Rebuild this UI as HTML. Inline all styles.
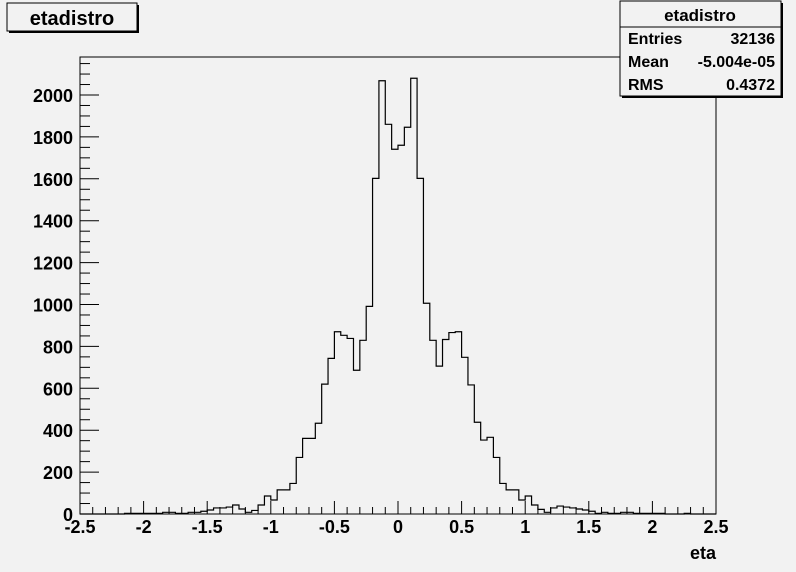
<!DOCTYPE html>
<html><head><meta charset="utf-8"><style>
html,body{margin:0;padding:0;background:#f2f2f2;}
svg{display:block;font-family:"Liberation Sans",Arial,sans-serif;font-weight:bold;}
</style></head><body>
<svg id="c" width="796" height="572" viewBox="0 0 796 572">
<rect x="0" y="0" width="796" height="572" fill="#f2f2f2"/>
<rect x="80" y="57" width="636" height="457" fill="#f2f2f2" stroke="#000" stroke-width="1"/>
<g id="ticks"></g>
<path id="hist" fill="none" stroke="#000" stroke-width="1.2"/>
<g>
<rect x="9" y="5" width="130" height="28" fill="#000"/>
<rect x="7" y="3" width="130" height="28" fill="#f2f2f2" stroke="#000" stroke-width="1"/>
<text x="72" y="25" font-size="20" text-anchor="middle">etadistro</text>
</g>
<g>
<rect x="622" y="3" width="161" height="95" fill="#000"/>
<rect x="620" y="1" width="161" height="95" fill="#f2f2f2" stroke="#000" stroke-width="1"/>
<line x1="620" y1="27" x2="781" y2="27" stroke="#000"/>
<text x="700" y="21" font-size="17" text-anchor="middle">etadistro</text>
<text x="628" y="44" font-size="16">Entries</text>
<text x="775" y="44" font-size="16" text-anchor="end">32136</text>
<text x="628" y="67" font-size="16">Mean</text>
<text x="775" y="67" font-size="16" text-anchor="end">-5.004e-05</text>
<text x="628" y="90" font-size="16">RMS</text>
<text x="775" y="90" font-size="16" text-anchor="end">0.4372</text>
</g>
<text x="716" y="559" font-size="18" text-anchor="end">eta</text>
</svg>
<script>
const binLow = -2.5;
const binWidth = 0.05;
const counts = [0,0,0,0,0,0,0,3,3,3,3,3,3,8,8,3,3,8,8,13,19,29,29,33,43,24,8,17,
43,86,67,115,115,146,270,361,361,433,620,743,870,853,838,686,829,991,1602,2068,1860,1741,
1760,1846,2080,1602,1006,829,706,833,866,870,748,616,438,353,366,270,146,115,115,67,86,43,
22,8,29,38,33,29,24,19,13,3,8,3,3,8,8,3,3,3,3,3,0,0,0,3,0,0,0,0];
const xTickLabels = ["-2.5","-2","-1.5","-1","-0.5","0","0.5","1","1.5","2","2.5"];
const yTickLabels = ["0","200","400","600","800","1000","1200","1400","1600","1800","2000"];
const X0=80,X1=716,Y0=514;
const xs = v => X0 + (v+2.5)/5*(X1-X0);
const ys = v => Y0 - v*0.2095;
const NS="http://www.w3.org/2000/svg";
const g=document.getElementById('ticks');
function line(x1,y1,x2,y2,name){const l=document.createElementNS(NS,'line');
l.setAttribute('x1',x1);l.setAttribute('y1',y1);l.setAttribute('x2',x2);l.setAttribute('y2',y2);
l.setAttribute('stroke','#000');l.setAttribute('stroke-width','1');


g.appendChild(l);}
function text(x,y,s,anchor,name){const t=document.createElementNS(NS,'text');
t.setAttribute('x',x);t.setAttribute('y',y);t.setAttribute('font-size','18');t.setAttribute('text-anchor',anchor);t.textContent=s;


g.appendChild(t);}
xTickLabels.forEach((s,i)=>{const v=parseFloat(s);const x=xs(v);
line(x,Y0,x,Y0-13,'x-major-tick');text(x,Y0+19,s,'middle','x-tick-label');
if(i<xTickLabels.length-1){for(let k=1;k<5;k++){const xm=xs(v+k*0.1);line(xm,Y0,xm,Y0-7,'x-minor-tick');}}});
yTickLabels.forEach((s,i)=>{const v=parseFloat(s);const y=ys(v);
line(X0,y,X0+19,y,'y-major-tick');text(X0-7,y+7,s,'end','y-tick-label');});
for(let v=0;v<=2200;v+=50){if(v%200===0)continue;const y=ys(v);if(y<57)break;line(X0,y,X0+10,y,'y-minor-tick');}
let d='M'+xs(binLow)+','+ys(0);
counts.forEach((c,i)=>{const xa=xs(binLow+i*binWidth),xb=xs(binLow+(i+1)*binWidth);
d+=' L'+xa+','+ys(c)+' L'+xb+','+ys(c);});
d+=' L'+xs(binLow+counts.length*binWidth)+','+ys(0);
document.getElementById('hist').setAttribute('d',d);
</script>
</body></html>
